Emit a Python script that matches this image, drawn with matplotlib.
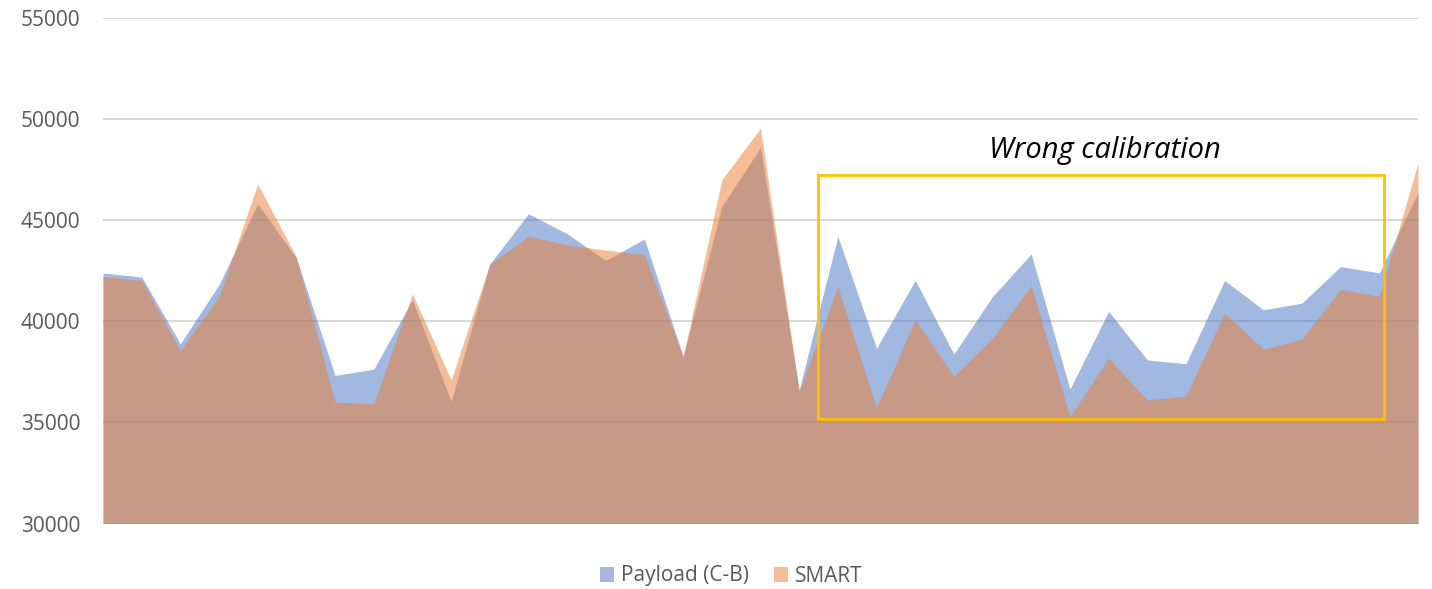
import matplotlib
matplotlib.use("Agg")
import matplotlib.pyplot as plt
from matplotlib.patches import Rectangle, Patch

plt.rcParams['font.family'] = ['Open Sans', 'DejaVu Sans']

payload = [42390, 42190, 38890, 41810, 45800, 43130, 37320, 37630, 41060, 36050,
           42830, 45320, 44330, 43010, 44070, 38260, 45680, 48600, 36610, 44200,
           38670, 42020, 38380, 41230, 43330, 36640, 40490, 38090, 37900, 42020,
           40570, 40900, 42710, 42390, 46380]
smart = [42220, 42020, 38550, 41230, 46790, 43170, 36000, 35920, 41360, 37100,
         42830, 44200, 43780, 43520, 43300, 38260, 47000, 49560, 36550, 41720,
         35730, 40070, 37300, 39170, 41770, 35290, 38180, 36110, 36310, 40410,
         38620, 39120, 41590, 41230, 47830]
y_ticks = [30000, 35000, 40000, 45000, 50000, 55000]
series_names = ["Payload (C-B)", "SMART"]
annotation = "Wrong calibration"
box_x = (18.49, 33.12)
box_y = (35170, 47250)

x = list(range(len(payload)))

fig = plt.figure(figsize=(14.32, 5.89), dpi=100)
ax = fig.add_axes([103/1432, 1 - 523.5/589, (1418-103)/1432, (523.5-18)/589])

blue = '#4472C4'
orange = '#ED7D31'
ax.fill_between(x, 30000, payload, color=blue, alpha=0.5, linewidth=0, zorder=2)
ax.fill_between(x, 30000, smart, color=orange, alpha=0.5, linewidth=0, zorder=3)

ax.set_xlim(0, len(payload) - 1)
ax.set_ylim(30000, 55000)
ax.set_yticks(y_ticks)
ax.set_yticklabels([str(v) for v in y_ticks])
ax.set_xticks([])
ax.grid(axis='y', color='#D9D9D9', linewidth=1.5, zorder=1)
ax.set_axisbelow(True)
for s in ax.spines.values():
    s.set_visible(False)
ax.tick_params(axis='y', length=0, pad=16.5, labelsize=15, labelcolor='#595959')

rect = Rectangle((box_x[0], box_y[0]), box_x[1] - box_x[0], box_y[1] - box_y[0],
                 fill=False, edgecolor='#FFC000', linewidth=2, zorder=5)
ax.add_patch(rect)
ax.text(25.9, 48440, annotation, fontsize=21, style='italic', color='black',
        ha='center', va='center', zorder=6)

handles = [Patch(facecolor=blue, alpha=0.5, edgecolor='none'),
           Patch(facecolor=orange, alpha=0.5, edgecolor='none')]
fig.legend(handles, series_names, loc='center', bbox_to_anchor=(731/1432, 1 - 576/589),
           ncol=2, frameon=False, fontsize=15, labelcolor='#595959',
           handlelength=0.7, handleheight=0.7, handletextpad=0.3, columnspacing=1.2)

fig.savefig('out.png', dpi=100)
